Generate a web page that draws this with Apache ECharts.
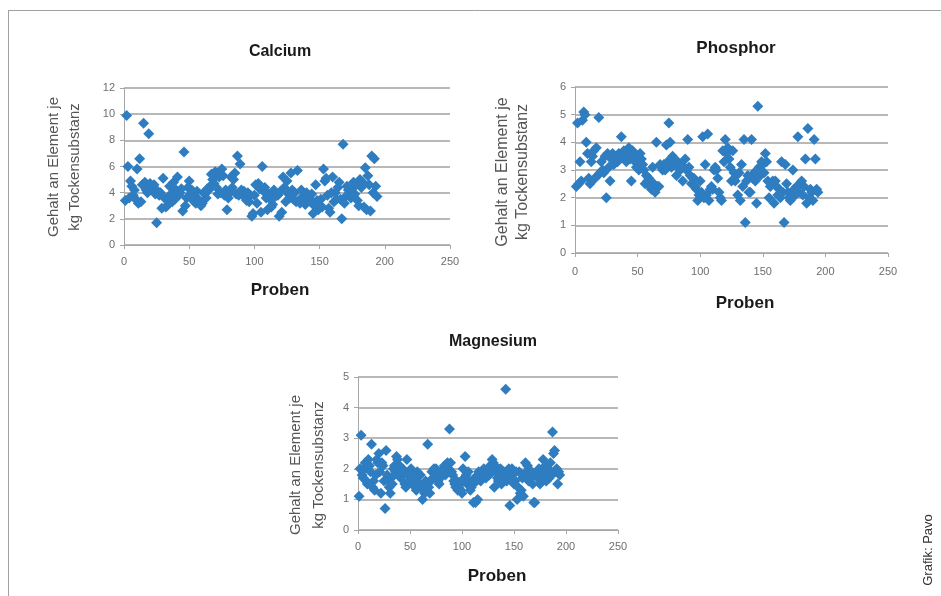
<!DOCTYPE html>
<html><head><meta charset="utf-8">
<script src="https://cdn.jsdelivr.net/npm/echarts@6/dist/echarts.min.js"></script>
<style>html,body{margin:0;padding:0;background:#fff}#c{width:941px;height:596px}</style>
</head><body><div id="c"></div>
<script>
// Titles and axis texts
const chartTitles = ['Calcium', 'Phosphor', 'Magnesium'];
const xAxisName = 'Proben';
const yAxisName = 'Gehalt an Element je\nkg Tockensubstanz';
const credit = 'Grafik: Pavo';

// Axis ranges / ticks
const xTicks = [0, 50, 100, 150, 200, 250];
const yMaxCalcium = 12, yStepCalcium = 2;
const yMaxPhosphor = 6, yStepPhosphor = 1;
const yMaxMagnesium = 5, yStepMagnesium = 1;

// Values per sample (Probe 1 ... 194)
const calcium = [
 3.4, 9.9, 6.0, 3.6, 4.9, 4.5, 3.8, 4.2, 3.5, 5.8,
 3.2, 6.6, 3.3, 4.6, 9.3, 4.8, 4.2, 4.0, 8.5, 4.7,
 4.3, 4.4, 4.6, 3.9, 1.7, 4.1, 3.8, 4.0, 2.8, 5.1,
 3.6, 2.9, 3.0, 3.4, 4.5, 3.9, 3.3, 4.8, 3.5, 4.2,
 5.2, 3.8, 4.0, 4.3, 2.6, 7.1, 3.0, 3.6, 4.4, 4.9,
 3.9, 4.2, 3.4, 3.7, 3.2, 4.1, 3.5, 3.3, 3.0, 3.2,
 4.0, 3.9, 3.6, 4.3, 4.2, 4.5, 5.4, 5.0, 4.7, 5.6,
 4.4, 3.9, 5.2, 4.0, 5.8, 5.3, 3.8, 4.2, 2.7, 3.6,
 4.0, 5.2, 4.4, 5.0, 5.5, 3.9, 6.8, 3.8, 6.2, 4.2,
 3.9, 4.1, 3.6, 3.4, 4.0, 3.3, 3.8, 2.2, 2.4, 3.8,
 4.6, 3.2, 4.7, 4.3, 2.5, 6.0, 4.1, 4.4, 3.6, 2.7,
 3.9, 3.5, 2.9, 3.1, 4.2, 3.7, 3.9, 3.8, 2.2, 4.1,
 2.5, 5.2, 4.4, 3.3, 4.9, 3.9, 3.6, 5.5, 4.2, 3.5,
 4.0, 3.3, 5.7, 3.4, 3.2, 4.2, 3.5, 3.8, 3.1, 4.0,
 3.7, 3.6, 3.3, 3.9, 2.4, 3.0, 4.6, 3.4, 2.7, 3.0,
 3.5, 2.9, 5.8, 4.9, 5.1, 3.8, 2.8, 2.5, 4.0, 5.2,
 3.3, 4.0, 3.5, 4.4, 4.8, 3.5, 2.0, 7.7, 3.2, 3.7,
 4.5, 4.2, 3.9, 3.6, 4.3, 4.8, 3.9, 4.6, 3.4, 3.0,
 5.0, 4.4, 4.8, 2.9, 5.9, 2.7, 5.3, 4.6, 2.6, 6.8,
 4.0, 6.6, 4.5, 3.7
];
const phosphor = [
 2.4, 4.7, 2.5, 3.3, 2.6, 4.8, 5.1, 5.0, 4.0, 3.6,
 2.7, 2.5, 3.3, 3.5, 3.7, 2.7, 3.8, 2.8, 4.9, 2.9,
 3.3, 3.0, 2.9, 3.5, 2.0, 3.6, 3.1, 2.6, 3.4, 3.6,
 3.2, 3.5, 3.4, 3.3, 3.6, 3.5, 4.2, 3.5, 3.7, 3.6,
 3.3, 3.5, 3.8, 3.4, 2.6, 3.7, 3.5, 3.3, 3.1, 3.5,
 3.0, 3.6, 3.4, 3.2, 3.0, 2.5, 2.8, 2.6, 2.7, 2.4,
 2.3, 3.1, 2.5, 2.2, 4.0, 2.4, 2.4, 3.2, 3.1, 3.0,
 3.2, 3.0, 3.9, 3.3, 4.7, 4.0, 3.1, 3.5, 3.3, 3.2,
 2.8, 3.3, 3.1, 3.0, 3.2, 2.6, 3.1, 3.4, 3.0, 4.1,
 3.1, 2.8, 2.5, 2.7, 2.7, 2.4, 2.3, 1.9, 2.1, 2.6,
 2.2, 4.2, 2.0, 3.2, 2.1, 4.3, 1.9, 2.3, 2.4, 2.3,
 3.0, 3.1, 3.0, 2.7, 2.2, 2.0, 1.9, 3.7, 3.3, 4.1,
 3.6, 3.8, 3.4, 3.1, 2.6, 3.7, 2.9, 2.6, 2.8, 2.1,
 2.9, 1.9, 3.2, 2.4, 4.1, 1.1, 2.6, 2.8, 2.2, 2.2,
 4.1, 2.7, 2.9, 2.6, 1.8, 5.3, 3.1, 2.8, 3.3, 3.2,
 2.9, 3.6, 3.3, 2.6, 2.0, 2.4, 2.5, 2.6, 1.8, 2.6,
 2.4, 2.1, 2.3, 2.0, 3.3, 2.2, 1.1, 3.2, 2.5, 2.2,
 2.0, 1.9, 2.1, 3.0, 2.3, 2.1, 2.4, 4.2, 2.2, 2.5,
 2.6, 2.1, 2.4, 3.4, 1.8, 4.5, 2.0, 2.3, 2.2, 1.9,
 4.1, 3.4, 2.3, 2.2
];
const magnesium = [
 1.1, 2.0, 3.1, 1.8, 1.7, 2.0, 2.2, 1.6, 1.5, 2.3,
 2.1, 1.9, 2.8, 1.4, 1.6, 1.3, 1.8, 2.3, 2.2, 2.5,
 1.9, 1.2, 2.2, 2.1, 1.6, 0.7, 2.6, 1.8, 1.6, 1.4,
 1.2, 1.7, 1.5, 2.0, 2.1, 1.9, 2.4, 2.3, 1.8, 2.1,
 1.7, 1.8, 2.0, 1.9, 1.5, 1.4, 2.3, 1.8, 1.6, 1.9,
 2.0, 1.7, 1.5, 1.6, 1.4, 1.3, 1.9, 1.8, 1.5, 1.8,
 1.4, 1.0, 1.3, 1.2, 1.6, 1.5, 2.8, 1.4, 1.2, 1.6,
 1.9, 1.7, 2.0, 1.8, 2.0, 1.9, 1.6, 1.5, 1.7, 1.8,
 1.9, 2.0, 2.1, 1.8, 1.9, 2.2, 2.0, 3.3, 2.2, 1.9,
 1.8, 1.6, 1.5, 1.4, 1.6, 1.3, 1.4, 1.5, 1.3, 1.2,
 2.0, 1.7, 2.4, 1.8, 1.5, 1.9, 1.6, 1.3, 1.4, 1.5,
 0.9, 1.7, 0.9, 1.6, 1.0, 1.9, 1.7, 1.6, 1.8, 1.9,
 2.0, 1.8, 1.7, 1.9, 2.0, 1.8, 2.1, 1.9, 2.3, 2.2,
 1.4, 2.1, 1.9, 1.7, 1.6, 1.8, 2.0, 1.5, 1.6, 1.9,
 1.7, 4.6, 1.6, 1.9, 2.0, 0.8, 1.8, 2.0, 1.9, 1.5,
 1.6, 1.9, 1.0, 1.4, 1.9, 1.2, 1.3, 1.7, 1.1, 1.8,
 2.2, 1.9, 2.1, 1.6, 1.8, 1.7, 1.9, 1.5, 0.9, 0.9,
 1.8, 1.9, 1.7, 2.0, 1.5, 1.9, 1.6, 2.3, 1.8, 2.1,
 1.6, 1.9, 2.0, 1.7, 2.2, 1.8, 3.2, 2.5, 2.6, 1.9,
 2.0, 1.5, 1.9, 1.8
];

const MARKER = '#2f7dc1';
const FONT = '"Liberation Sans", Arial, sans-serif';

function toPoints(arr) { return arr.map((v, i) => [i + 1, v]); }

function xAxisCfg(gi, margin) {
  return {
    type: 'value', gridIndex: gi,
    min: xTicks[0], max: xTicks[xTicks.length - 1], interval: xTicks[1] - xTicks[0],
    axisLine: { show: true, lineStyle: { color: '#a6a6a6', width: 1 } },
    axisTick: { show: true, inside: false, length: 4, lineStyle: { color: '#a6a6a6' } },
    axisLabel: { color: '#6e6e6e', fontSize: 11, fontFamily: FONT, margin: margin },
    splitLine: { show: false }
  };
}
function yAxisCfg(gi, max, step) {
  return {
    type: 'value', gridIndex: gi, min: 0, max: max, interval: step,
    axisLine: { show: true, lineStyle: { color: '#a6a6a6', width: 1 } },
    axisTick: { show: true, inside: false, length: 4, lineStyle: { color: '#a6a6a6' } },
    axisLabel: { color: '#6e6e6e', fontSize: 11, fontFamily: FONT, margin: 9 },
    splitLine: { show: true, lineStyle: { color: '#b8b8b8', width: 1.8 } }
  };
}
function scatter(gi, arr) {
  return {
    type: 'scatter', xAxisIndex: gi, yAxisIndex: gi,
    symbol: 'diamond', symbolSize: 11,
    itemStyle: { color: MARKER, opacity: 1 },
    data: toPoints(arr), silent: true, animation: false
  };
}
function txt(x, y, text, size, bold, color, rot, lh) {
  return {
    type: 'text', x: x, y: y, rotation: rot || 0,
    style: {
      text: text, fontSize: size, fontWeight: bold ? 'bold' : 'normal',
      fontFamily: FONT, fill: color, align: 'center', verticalAlign: 'middle',
      lineHeight: lh || size + 2
    }
  };
}

const chart = echarts.init(document.getElementById('c'), null, { renderer: 'canvas' });
chart.setOption({
  backgroundColor: '#ffffff',
  animation: false,
  grid: [
    { left: 124, top: 88, width: 326, height: 157 },
    { left: 575, top: 87, width: 313, height: 166 },
    { left: 358, top: 377, width: 260, height: 153 }
  ],
  xAxis: [xAxisCfg(0, 11), xAxisCfg(1, 13), xAxisCfg(2, 11)],
  yAxis: [
    yAxisCfg(0, yMaxCalcium, yStepCalcium),
    yAxisCfg(1, yMaxPhosphor, yStepPhosphor),
    yAxisCfg(2, yMaxMagnesium, yStepMagnesium)
  ],
  series: [scatter(0, calcium), scatter(1, phosphor), scatter(2, magnesium)],
  graphic: [
    { type: 'line', shape: { x1: 8, y1: 10.5, x2: 941, y2: 10.5 }, style: { stroke: '#a0a0a0', lineWidth: 1 } },
    { type: 'line', shape: { x1: 8.5, y1: 10, x2: 8.5, y2: 596 }, style: { stroke: '#a0a0a0', lineWidth: 1 } },
    txt(280, 52, chartTitles[0], 16, true, '#1a1a1a'),
    txt(736, 48, chartTitles[1], 17, true, '#1a1a1a'),
    txt(493, 342, chartTitles[2], 16, true, '#1a1a1a'),
    txt(280, 290, xAxisName, 17, true, '#1a1a1a'),
    txt(745, 303, xAxisName, 17, true, '#1a1a1a'),
    txt(497, 576, xAxisName, 17, true, '#1a1a1a'),
    txt(64, 167, yAxisName, 15, false, '#555', Math.PI / 2, 21),
    txt(513, 172, yAxisName, 16, false, '#555', Math.PI / 2, 20),
    txt(307, 465, yAxisName, 15, false, '#555', Math.PI / 2, 23),
    txt(928, 550, credit, 13, false, '#333', Math.PI / 2)
  ]
});
</script>
</body></html>
